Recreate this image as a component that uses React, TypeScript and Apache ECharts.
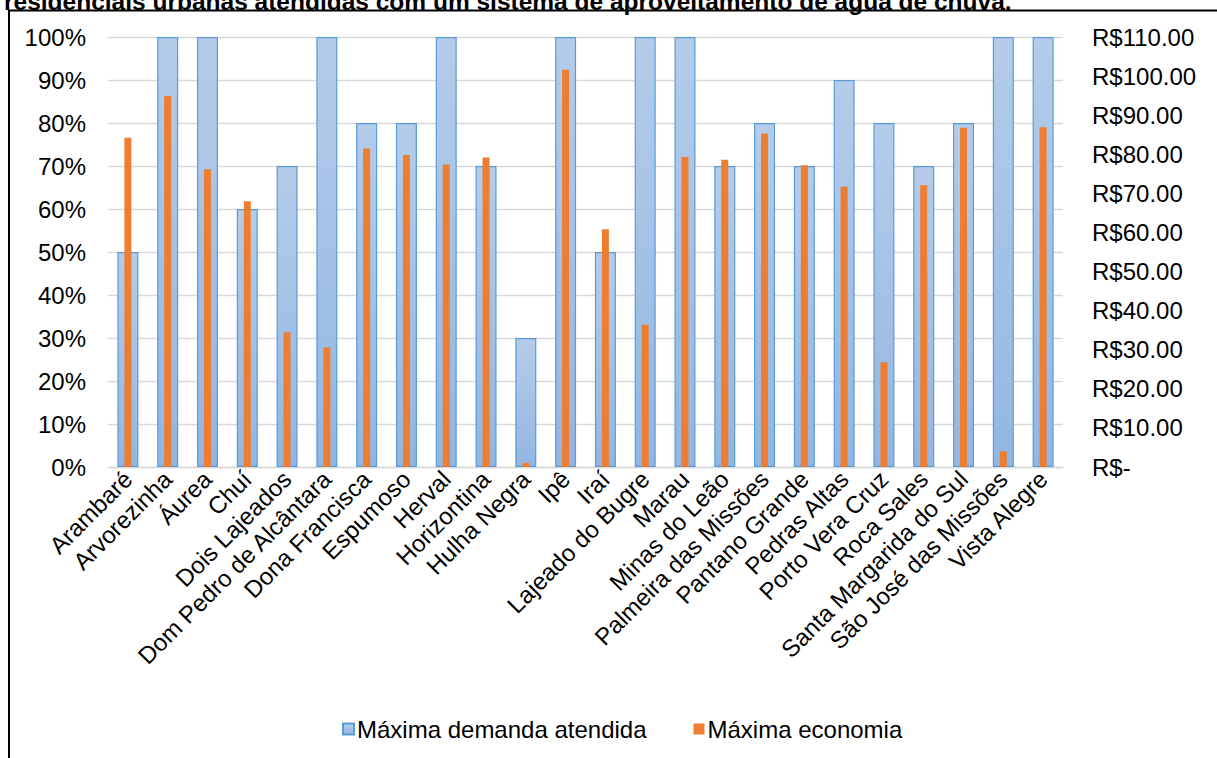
import React, { useEffect, useRef } from "react";
import * as echarts from "echarts";

// Municipalities
const categories: string[] = [
  "Arambaré",
  "Arvorezinha",
  "Áurea",
  "Chuí",
  "Dois Lajeados",
  "Dom Pedro de Alcântara",
  "Dona Francisca",
  "Espumoso",
  "Herval",
  "Horizontina",
  "Hulha Negra",
  "Ipê",
  "Iraí",
  "Lajeado do Bugre",
  "Marau",
  "Minas do Leão",
  "Palmeira das Missões",
  "Pantano Grande",
  "Pedras Altas",
  "Porto Vera Cruz",
  "Roca Sales",
  "Santa Margarida do Sul",
  "São José das Missões",
  "Vista Alegre",
];

// Máxima demanda atendida (%)
const demandaAtendida: number[] = [
  50, 100, 100, 60, 70, 100, 80, 80, 100, 70, 30, 100, 50, 100, 100, 70, 80, 70,
  90, 80, 70, 80, 100, 100,
];

// Máxima economia (R$)
const economia: number[] = [
  84.2, 94.9, 76.2, 68.0, 34.5, 30.6, 81.5, 79.8, 77.4, 79.2, 1.0, 101.6, 60.8,
  36.4, 79.3, 78.6, 85.3, 77.2, 71.7, 26.8, 72.1, 86.8, 4.0, 86.9,
];

const seriesNames = ["Máxima demanda atendida", "Máxima economia"];

const titleText =
  "residenciais urbanas atendidas com um sistema de aproveitamento de água de chuva.";

const FONT = "Arial, 'Liberation Sans', sans-serif";
const FS = 24;

export default function App() {
  const ref = useRef<HTMLDivElement>(null);

  useEffect(() => {
    if (!ref.current) return;
    const chart = echarts.init(ref.current, undefined, { renderer: "svg" });

    const gridLine = { lineStyle: { color: "#d9d9d9", width: 1.3 } };

    chart.setOption({
      animation: false,
      backgroundColor: "#ffffff",
      textStyle: { fontFamily: FONT },
      graphic: [
        {
          type: "text",
          left: 4,
          top: -11,
          style: {
            text: titleText,
            font: `bold 24.5px ${FONT}`,
            fill: "#000000",
          },
        },
        {
          type: "rect",
          shape: { x: 9, y: 10.5, width: 1400, height: 900 },
          style: { fill: "none", stroke: "#000000", lineWidth: 2 },
          silent: true,
        },
      ],
      grid: { left: 108, right: 154, top: 37, bottom: 291, containLabel: false },
      legend: {
        data: seriesNames,
        left: 337,
        top: 712,
        itemWidth: 11,
        itemHeight: 11,
        itemGap: 47,
        icon: "rect",
        textStyle: { fontSize: FS, color: "#000000", fontFamily: FONT, padding: [0, 0, 0, -2] },
      },
      xAxis: [
        {
          type: "category",
          data: categories,
          axisTick: { show: false },
          axisLine: { show: true, lineStyle: { color: "#d9d9d9", width: 1.3 } },
          axisLabel: {
            rotate: 45,
            interval: 0,
            margin: 8,
            fontSize: FS,
            color: "#000000",
            fontFamily: FONT,
          },
        },
        {
          type: "category",
          data: categories,
          show: false,
        },
      ],
      yAxis: [
        {
          type: "value",
          min: 0,
          max: 100,
          interval: 10,
          axisLine: { show: false },
          axisTick: { show: false },
          splitLine: gridLine,
          axisLabel: {
            fontSize: FS,
            color: "#000000",
            margin: 22,
            fontFamily: FONT,
            formatter: (v: number) => `${v}%`,
          },
        },
        {
          type: "value",
          min: 0,
          max: 110,
          interval: 10,
          position: "right",
          axisLine: { show: false },
          axisTick: { show: false },
          splitLine: { show: false },
          axisLabel: {
            fontSize: FS,
            color: "#000000",
            margin: 29,
            fontFamily: FONT,
            formatter: (v: number) => (v === 0 ? "R$-" : `R$${v.toFixed(2)}`),
          },
        },
      ],
      series: [
        {
          name: seriesNames[0],
          type: "bar",
          xAxisIndex: 0,
          yAxisIndex: 0,
          data: demandaAtendida,
          barWidth: 21,
          itemStyle: {
            color: new echarts.graphic.LinearGradient(0, 0, 0, 1, [
              { offset: 0, color: "#b5cce9" },
              { offset: 1, color: "#92b6e2" },
            ]),
            borderColor: "#5b9bd5",
            borderWidth: 1.2,
          },
        },
        {
          name: seriesNames[1],
          type: "bar",
          xAxisIndex: 1,
          yAxisIndex: 1,
          data: economia,
          barWidth: 7,
          itemStyle: { color: "#ed7d31" },
        },
      ],
    });

    return () => chart.dispose();
  }, []);

  return (
    <div
      ref={ref}
      style={{ position: "fixed", left: 0, top: 0, width: 1217, height: 758 }}
    />
  );
}
